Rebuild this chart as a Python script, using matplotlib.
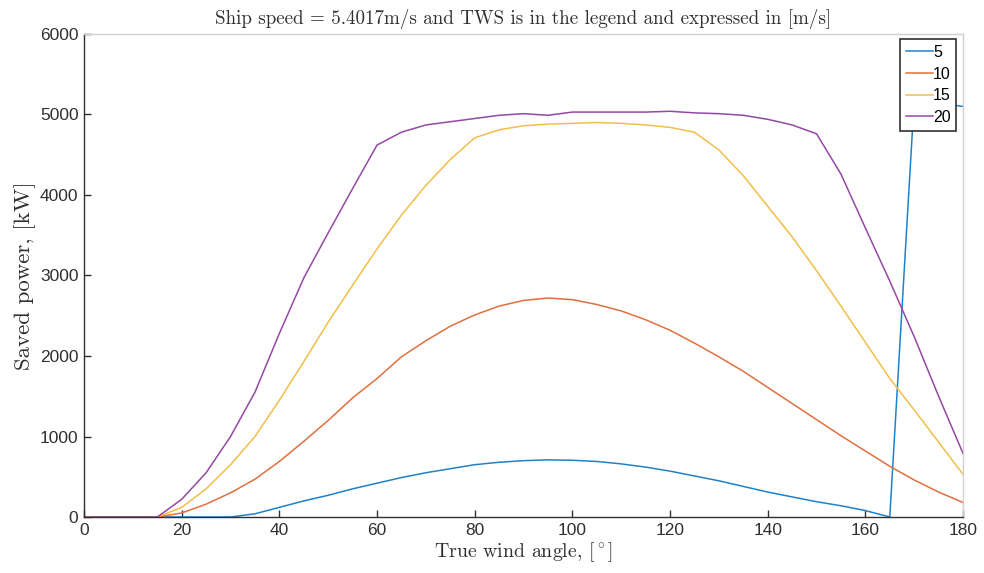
import matplotlib
matplotlib.use("Agg")
import matplotlib.pyplot as plt

plt.rcParams["mathtext.fontset"] = "cm"
plt.rcParams["axes.unicode_minus"] = False

# True wind angle [deg]
twa = list(range(0, 181, 5))

# Saved power [kW] for each true wind speed [m/s]
p_tws5 = [0, 0, 0, 0, 0, 0, 0, 40, 120, 200, 270, 350, 420, 490, 550, 600,
          650, 680, 700, 710, 705, 690, 660, 620, 570, 510, 450, 380, 310,
          250, 190, 140, 80, 0, 5180, 5140, 5100]
p_tws10 = [0, 0, 0, 0, 50, 160, 300, 470, 690, 940, 1200, 1480, 1720, 1990,
           2190, 2370, 2510, 2620, 2690, 2720, 2700, 2640, 2560, 2450, 2320,
           2160, 1990, 1810, 1610, 1410, 1210, 1010, 820, 630, 460, 310, 180]
p_tws15 = [0, 0, 0, 0, 120, 350, 650, 1000, 1450, 1930, 2420, 2880, 3330,
           3750, 4120, 4440, 4710, 4810, 4860, 4880, 4890, 4900, 4890, 4870,
           4840, 4780, 4560, 4240, 3860, 3480, 3060, 2620, 2170, 1720, 1330,
           930, 530]
p_tws20 = [0, 0, 0, 0, 220, 550, 1000, 1550, 2280, 2970, 3530, 4080, 4620,
           4780, 4870, 4910, 4950, 4990, 5010, 4990, 5030, 5030, 5030, 5030,
           5040, 5020, 5010, 4990, 4940, 4870, 4760, 4260, 3590, 2930, 2240,
           1500, 790]

series = [("5", p_tws5, "#1f82c8"),
          ("10", p_tws10, "#e0703f"),
          ("15", p_tws15, "#f0bf4a"),
          ("20", p_tws20, "#9448a4")]

x_ticks = list(range(0, 181, 20))
y_ticks = list(range(0, 6001, 1000))

fig = plt.figure(figsize=(9.84, 5.73), dpi=100)
ax = fig.add_axes([0.0854, 0.0977, 0.8933, 0.843])

for label, vals, col in series:
    ax.plot(twa, vals, color=col, lw=1.1, label=label)

ax.set_xlim(0, 180)
ax.set_ylim(0, 6000)
ax.set_xticks(x_ticks)
ax.set_yticks(y_ticks)

tick_font = "Liberation Sans"
for lab in ax.get_xticklabels() + ax.get_yticklabels():
    lab.set_fontfamily(tick_font)
    lab.set_fontsize(12.5)
    lab.set_color("#303030")

ax.tick_params(direction="in", length=5, width=1, color="#303030", pad=4)
for side in ("left", "bottom"):
    ax.spines[side].set_color("#303030")
    ax.spines[side].set_linewidth(1.0)
for side in ("top", "right"):
    ax.spines[side].set_color("#d0d0d0")
    ax.spines[side].set_linewidth(1.0)

ax.set_title("Ship speed = 5.4017m/s and TWS is in the legend and expressed in [m/s]",
             fontfamily="cmr10", fontsize=13.7, color="#303030", pad=7)
ax.set_xlabel(r"True wind angle, [$^\circ$]", fontfamily="cmr10",
              fontsize=14.3, color="#303030", labelpad=2)
ax.set_ylabel("Saved power, [kW]", fontfamily="cmr10", fontsize=16.5,
              color="#303030", labelpad=3)

leg = ax.legend(loc="upper right", bbox_to_anchor=(0.9925, 0.989),
                handlelength=1.7, handletextpad=0.0, labelspacing=0.42,
                borderpad=0.35, borderaxespad=0.0, fancybox=False,
                framealpha=1.0, prop={"family": tick_font, "size": 11.5})
leg.get_frame().set_edgecolor("#303030")
leg.get_frame().set_linewidth(1.2)

fig.savefig("out.png", dpi=100)
